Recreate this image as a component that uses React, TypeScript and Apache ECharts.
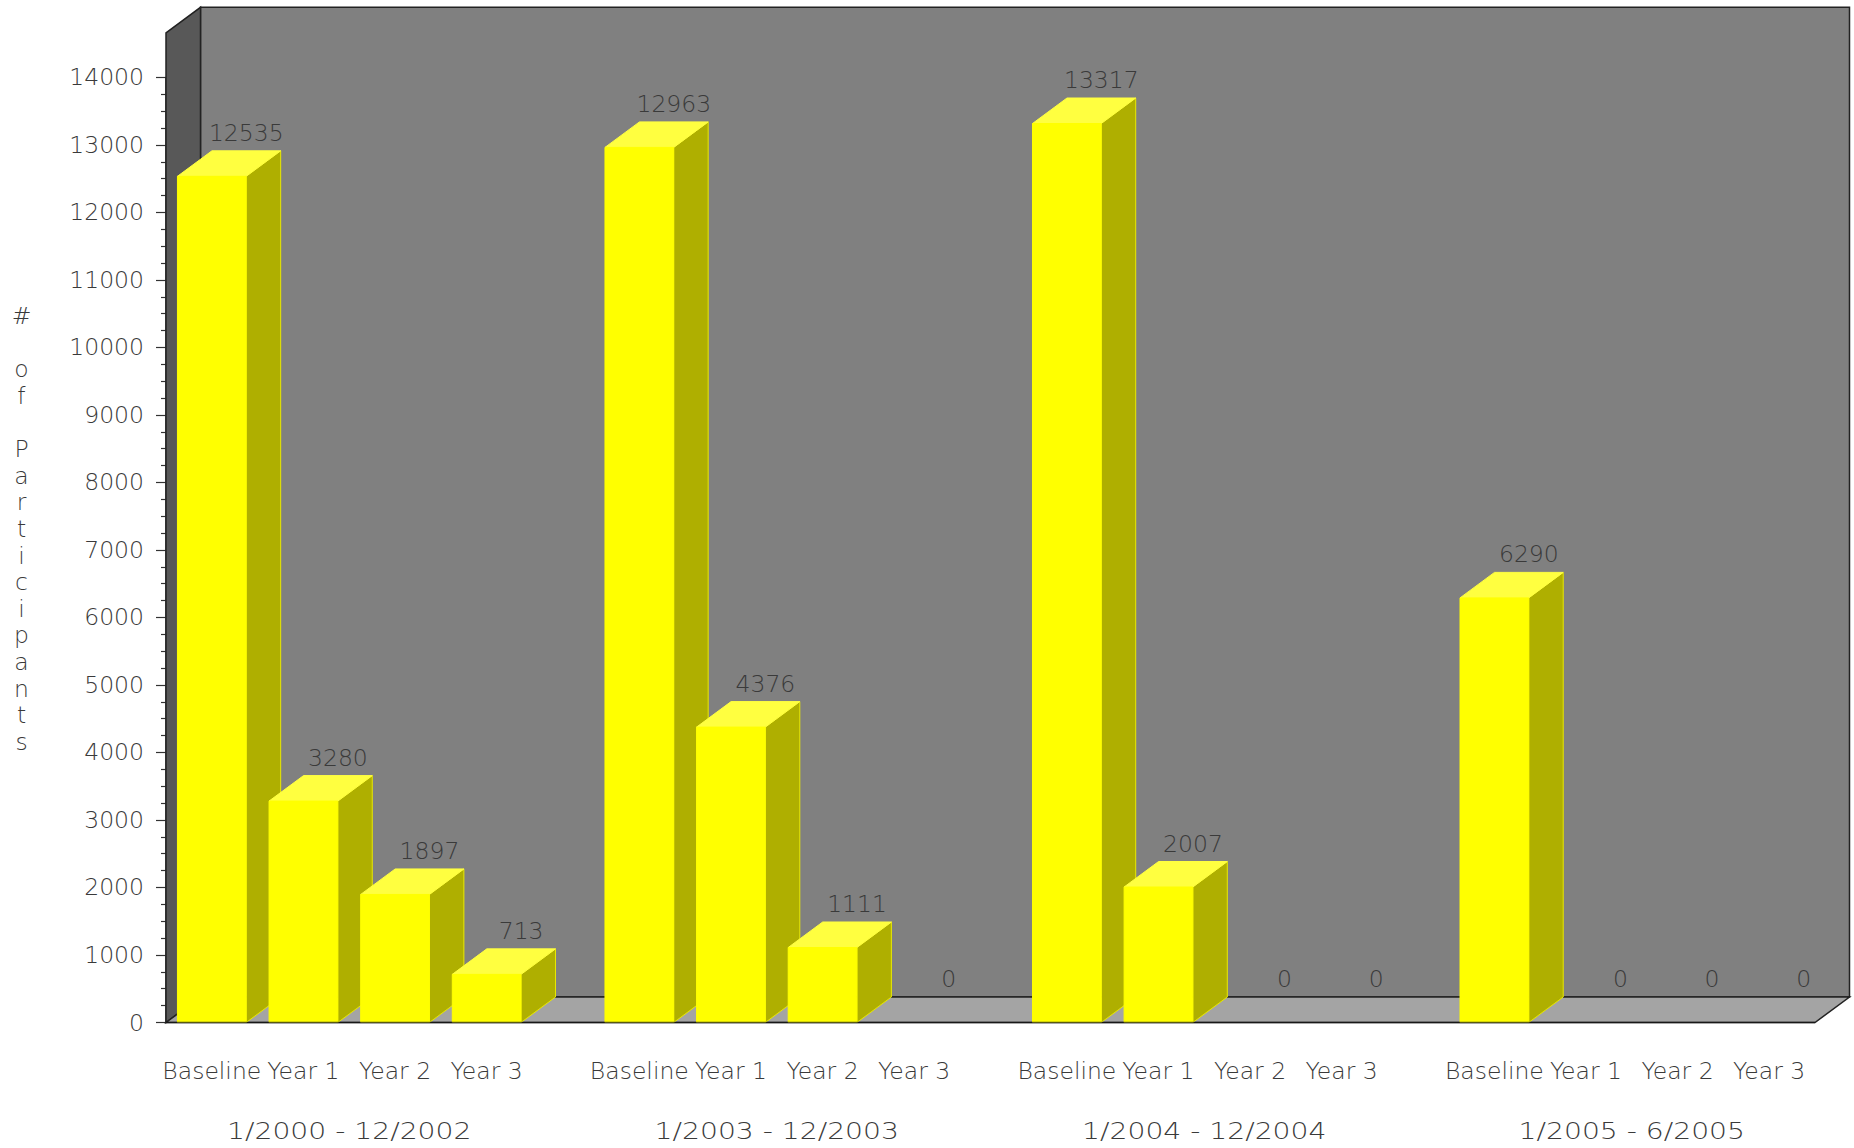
import React, { useEffect, useRef } from "react";
import * as echarts from "echarts";

const periods = ["1/2000 - 12/2002", "1/2003 - 12/2003", "1/2004 - 12/2004", "1/2005 - 6/2005"];
const phases = ["Baseline", "Year 1", "Year 2", "Year 3"];
const period1 = [12535, 3280, 1897, 713];
const period2 = [12963, 4376, 1111, 0];
const period3 = [13317, 2007, 0, 0];
const period4 = [6290, 0, 0, 0];
const allPeriods = [period1, period2, period3, period4];
const yTicks = 14000;
const wallTop = 14660;

const SLOTS = 54;
const GROUP_SLOTS = 14;
const BAR_SLOTS = 3;
const DX = 34.5;
const DY = -25.5;
const FONT = "'DejaVu Sans Light', 'DejaVu Sans ExtraLight', 'DejaVu Sans'";
const WEIGHT = 200;
const TEXT = "#3a3a3a";
const SIZE = 23.5;

const slotLabels: string[] = Array.from({ length: SLOTS }, () => "");
const barData: number[][] = [];
allPeriods.forEach((vals, g) => {
  vals.forEach((v, j) => {
    const s = 1 + g * GROUP_SLOTS + j * BAR_SLOTS;
    slotLabels[s] = phases[j];
    barData.push([s, v]);
  });
});

const yName = "# of Participants".split("").join("\n");

export default function App() {
  const ref = useRef<HTMLDivElement>(null);
  useEffect(() => {
    const chart = echarts.init(ref.current!, null, { renderer: "svg" });
    chart.setOption({
      animation: false,
      backgroundColor: "#ffffff",
      grid: { left: 166, top: 77.4, width: 1649, height: 945.1, containLabel: false },
      graphic: [
        {
          type: "text",
          x: 21.5,
          y: 529,
          style: {
            text: yName,
            textAlign: "center",
            textVerticalAlign: "middle",
            fontFamily: FONT,
            fontWeight: WEIGHT,
            fontSize: SIZE,
            lineHeight: 26.6,
            fill: TEXT,
          },
        },
      ],
      xAxis: {
        type: "category",
        data: slotLabels,
        axisLine: { show: false },
        axisTick: { show: false },
        splitLine: { show: false },
        axisLabel: {
          interval: 0,
          margin: 36,
          fontFamily: FONT,
          fontWeight: WEIGHT,
          fontSize: SIZE,
          color: TEXT,
        },
      },
      yAxis: {
        type: "value",
        min: 0,
        max: yTicks,
        interval: 1000,
        axisLine: { show: true, lineStyle: { color: "#222", width: 1.5 } },
        axisTick: { show: true, length: 10, lineStyle: { color: "#333", width: 1.2 } },
        minorTick: { show: true, splitNumber: 4, length: 5, lineStyle: { color: "#333", width: 1.2 } },
        splitLine: { show: false },
        minorSplitLine: { show: false },
        axisLabel: {
          margin: 22,
          formatter: (v: number) => String(v),
          fontFamily: FONT,
          fontWeight: WEIGHT,
          fontSize: SIZE,
          color: TEXT,
        },
      },
      series: [
        {
          type: "custom",
          name: "walls",
          silent: true,
          z: 1,
          clip: false,
          data: [[0, wallTop]],
          encode: { x: 0, y: 1 },
          renderItem: (params: any, api: any) => {
            const cs = params.coordSys;
            const x0 = cs.x;
            const x1 = cs.x + cs.width;
            const yb = api.coord([0, 0])[1];
            const yt = api.coord([0, api.value(1)])[1];
            const poly = (pts: number[][], fill: string) => ({
              type: "polygon",
              shape: { points: pts },
              style: { fill, stroke: "#222", lineWidth: 1.5 },
            });
            return {
              type: "group",
              children: [
                poly([[x0 + DX, yt + DY], [x1 + DX, yt + DY], [x1 + DX, yb + DY], [x0 + DX, yb + DY]], "#808080"),
                poly([[x0, yt], [x0 + DX, yt + DY], [x0 + DX, yb + DY], [x0, yb]], "#585858"),
                poly([[x0, yb], [x0 + DX, yb + DY], [x1 + DX, yb + DY], [x1, yb]], "#a4a4a4"),
              ],
            };
          },
        },
        {
          type: "custom",
          name: "bars",
          z: 2,
          clip: false,
          data: barData,
          encode: { x: 0, y: 1 },
          renderItem: (params: any, api: any) => {
            const s = api.value(0);
            const v = api.value(1);
            const [cx, yb] = api.coord([s, 0]);
            const [, yt] = api.coord([s, v]);
            const w = (api.size([1, 0])[0] as number) * BAR_SLOTS * 0.75;
            const l = cx - w / 2;
            const r = cx + w / 2;
            const children: any[] = [];
            if (v > 0) {
              children.push(
                {
                  type: "polygon",
                  shape: { points: [[r, yt], [r + DX, yt + DY], [r + DX, yb + DY], [r, yb]] },
                  style: { fill: "#afaf00", stroke: "#e8e800", lineWidth: 1 },
                },
                {
                  type: "polygon",
                  shape: { points: [[l, yt], [l + DX, yt + DY], [r + DX, yt + DY], [r, yt]] },
                  style: { fill: "#ffff40", stroke: "#ffff40", lineWidth: 1 },
                },
                {
                  type: "rect",
                  shape: { x: l, y: yt, width: w, height: yb - yt },
                  style: { fill: "#ffff00", stroke: "#ffff00", lineWidth: 1 },
                }
              );
            }
            children.push({
              type: "text",
              z2: 10,
              style: {
                x: cx + DX,
                y: yt + DY - 18,
                text: String(v),
                textAlign: "center",
                textVerticalAlign: "middle",
                fontFamily: FONT,
                fontWeight: WEIGHT,
                fontSize: SIZE,
                fill: TEXT,
              },
            });
            return { type: "group", children };
          },
        },
        {
          type: "custom",
          name: "front edge",
          silent: true,
          z: 3,
          clip: false,
          data: [[0, 0]],
          encode: { x: 0, y: 1 },
          renderItem: (params: any, api: any) => {
            const cs = params.coordSys;
            const yb = api.coord([0, 0])[1];
            return {
              type: "line",
              shape: { x1: cs.x, y1: yb, x2: cs.x + cs.width, y2: yb },
              style: { stroke: "rgba(20,20,20,0.7)", lineWidth: 1.5 },
            };
          },
        },
        {
          type: "custom",
          name: "periods",
          silent: true,
          z: 3,
          clip: false,
          data: periods.map((p, g) => [5 + g * GROUP_SLOTS, 0, p]),
          encode: { x: 0, y: 1 },
          renderItem: (params: any, api: any) => {
            const [cx, yb] = api.coord([api.value(0), 0]);
            const band = api.size([1, 0])[0] as number;
            return {
              type: "text",
              x: cx + band / 2,
              y: yb + 108.5,
              scaleX: 1.2,
              style: {
                x: 0,
                y: 0,
                text: periods[params.dataIndex],
                textAlign: "center",
                textVerticalAlign: "middle",
                fontFamily: FONT,
                fontWeight: WEIGHT,
                fontSize: SIZE,
                fill: TEXT,
              },
            };
          },
        },
      ],
    });
    return () => chart.dispose();
  }, []);
  return <div ref={ref} style={{ position: "fixed", left: 0, top: 0, width: 1854, height: 1148 }} />;
}
